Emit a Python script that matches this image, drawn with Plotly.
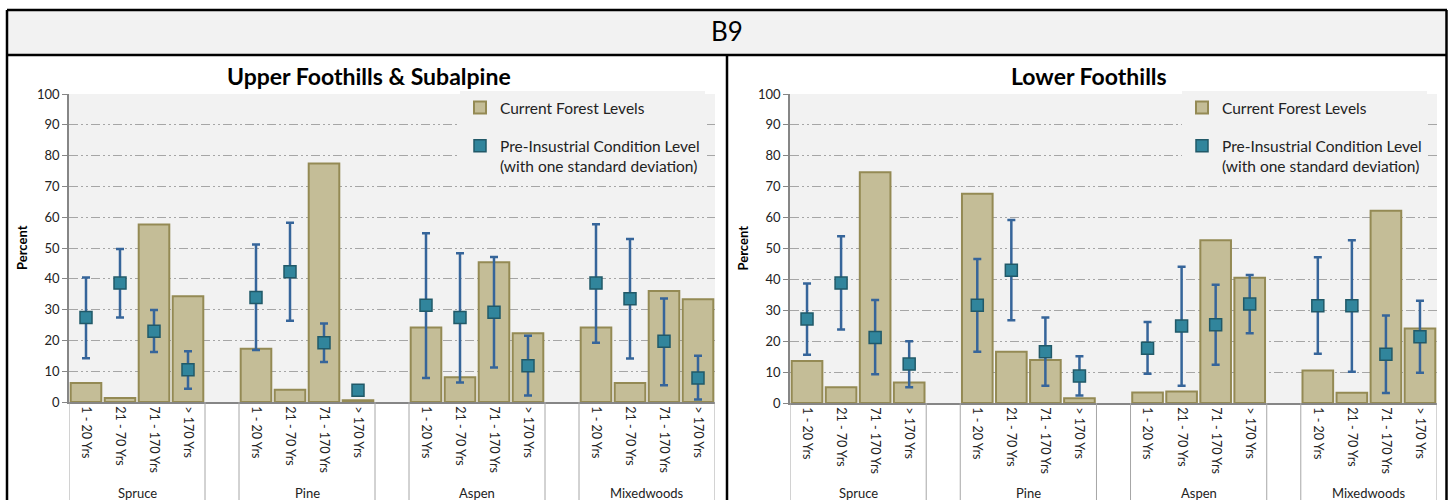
import plotly.graph_objects as go

W, H = 1453, 500

# ---------------- data ----------------
species = ["Spruce", "Pine", "Aspen", "Mixedwoods"]
age_classes = ["1 - 20 Yrs", "21 - 70 Yrs", "71 - 170 Yrs", "> 170 Yrs"]

upper_current = [6.2, 1.3, 57.6, 34.3, 17.3, 4.0, 77.4, 0.6,
                 24.2, 8.0, 45.4, 22.3, 24.2, 6.2, 36.0, 33.4]
upper_pre_mean = [27.4, 38.6, 23.0, 10.5, 33.9, 42.3, 19.2, 3.8,
                  31.4, 27.4, 29.1, 11.8, 38.6, 33.5, 19.7, 7.8]
upper_pre_high = [40.4, 49.7, 29.9, 16.5, 51.1, 58.2, 25.5, 5.3,
                  54.8, 48.3, 47.1, 21.5, 57.7, 52.9, 33.6, 15.0]
upper_pre_low = [14.2, 27.4, 16.2, 4.3, 16.9, 26.4, 13.0, 2.5,
                 7.8, 6.3, 11.2, 2.1, 19.2, 14.1, 5.4, 0.8]

lower_current = [13.6, 5.1, 74.7, 6.6, 67.7, 16.6, 13.9, 1.5,
                 3.4, 3.7, 52.7, 40.5, 10.5, 3.3, 62.2, 24.1]
lower_pre_mean = [27.2, 38.8, 21.2, 12.6, 31.6, 43.0, 16.6, 8.7,
                  17.7, 24.9, 25.3, 32.0, 31.5, 31.5, 15.8, 21.4]
lower_pre_high = [38.7, 54.0, 33.3, 20.0, 46.6, 59.2, 27.7, 15.1,
                  26.2, 44.1, 38.3, 41.4, 47.2, 52.7, 28.3, 33.1]
lower_pre_low = [15.6, 23.8, 9.3, 5.1, 16.6, 26.8, 5.6, 2.4,
                 9.5, 5.6, 12.4, 22.6, 15.9, 10.1, 3.2, 9.8]

panel_titles = ["Upper Foothills & Subalpine", "Lower Foothills"]
header_title = "B9"
y_title = "Percent"
legend_current = "Current Forest Levels"
legend_pre = "Pre-Insustrial Condition Level<br>(with one standard deviation)"

# ---------------- styling ----------------
FONT = "Lato"
BAR_FILL = "#c4bd97"
BAR_LINE = "#948a54"
MK_FILL = "#31859c"
MK_LINE = "#215968"
ERR_COL = "#36659a"
PLOT_BG = "#f2f2f2"
GRID = "#a6a6a6"
AXIS = "#868686"

n_age = len(age_classes)
slot = n_age + 1  # one empty slot between species groups
x_pos = [g * slot + i for g in range(len(species)) for i in range(n_age)]
tick_text = [age_classes[i] for g in range(len(species)) for i in range(n_age)]
n_slots = len(species) * slot - 1


def px_x(p):
    return p / W


def px_y(p):
    return 1 - p / H


panels = [
    dict(cur=upper_current, mean=upper_pre_mean, hi=upper_pre_high, lo=upper_pre_low,
         x0=69, x1=715, y0=402, y1=94, pleft=7, pright=727, legend_x=460),
    dict(cur=lower_current, mean=lower_pre_mean, hi=lower_pre_high, lo=lower_pre_low,
         x0=790, x1=1437, y0=403, y1=94, pleft=727, pright=1447, legend_x=1182),
]

fig = go.Figure()
shapes = []
annotations = []

for k, p in enumerate(panels):
    xa = "x" if k == 0 else "x2"
    ya = "y" if k == 0 else "y2"
    leg = "legend" if k == 0 else "legend2"
    fig.add_trace(go.Bar(
        x=x_pos, y=p["cur"], xaxis=xa, yaxis=ya, name=legend_current,
        marker=dict(color=BAR_FILL, line=dict(color=BAR_LINE, width=2)),
        width=0.9, legend=leg, legendgroup=f"cur{k}",
    ))
    err_plus = [h - m for h, m in zip(p["hi"], p["mean"])]
    err_minus = [m - l for m, l in zip(p["mean"], p["lo"])]
    fig.add_trace(go.Scatter(
        x=x_pos, y=p["mean"], xaxis=xa, yaxis=ya, mode="markers", name=legend_pre,
        marker=dict(symbol="square", size=12, color=MK_FILL, line=dict(color=MK_LINE, width=1.5)),
        error_y=dict(type="data", symmetric=False, array=err_plus, arrayminus=err_minus,
                     color=ERR_COL, thickness=2.5, width=4),
        legend=leg, legendgroup=f"pre{k}",
    ))

    dom_x = [px_x(p["x0"]), px_x(p["x1"])]
    dom_y = [px_y(p["y0"]), px_y(p["y1"])]
    suffix = "" if k == 0 else "2"
    fig.update_layout(**{
        f"xaxis{suffix}": dict(
            domain=dom_x, anchor=ya, range=[-0.5, n_slots - 0.5], automargin=False,
            tickmode="array", tickvals=x_pos, ticktext=tick_text, tickangle=90,
            tickfont=dict(family=FONT, size=12.5, color="#222"),
            showgrid=False, zeroline=False, showline=True, linecolor=AXIS, linewidth=1.5,
            ticks="", fixedrange=True,
        ),
        f"yaxis{suffix}": dict(
            domain=dom_y, anchor=xa, range=[0, 100], tickmode="array", automargin=False,
            tickvals=list(range(0, 101, 10)),
            tickfont=dict(family=FONT, size=13, color="#222"),
            showgrid=True, gridcolor=GRID, gridwidth=1, griddash="9px,3px,2px,3px,2px,3px",
            zeroline=False, showline=True, linecolor=AXIS, linewidth=1.5,
            ticks="outside", ticklen=5, tickcolor=AXIS, fixedrange=True,
        ),
        leg: dict(
            x=px_x(p["legend_x"]), xanchor="left", y=px_y(91), yanchor="top",
            bgcolor=PLOT_BG, font=dict(family=FONT, size=15.5, color="#222"),
            traceorder="grouped", tracegroupgap=15, valign="top",
        ),
    })

    # category separators (multi-level axis)
    axis_y = px_y(p["y0"])
    bounds = []
    for g in range(len(species)):
        bounds += [g * slot - 0.5, g * slot + n_age - 0.5]
    for b in bounds:
        shapes.append(dict(type="line", xref=xa, yref="paper", x0=b, x1=b,
                           y0=axis_y, y1=px_y(502), line=dict(color="#a6a6a6", width=1)))
    # species labels
    for g, s in enumerate(species):
        annotations.append(dict(text=s, xref=xa, yref="paper", x=g * slot + (n_age - 1) / 2,
                                y=px_y(493), showarrow=False, xanchor="center", yanchor="middle",
                                font=dict(family=FONT, size=13, color="#222")))
    # panel title
    annotations.append(dict(text=f"<b>{panel_titles[k]}</b>", xref="paper", yref="paper",
                            x=px_x((p["pleft"] + p["pright"]) / 2 + 2), y=px_y(76),
                            showarrow=False, xanchor="center", yanchor="middle",
                            font=dict(family=FONT, size=23, color="#000")))
    # y axis title
    annotations.append(dict(text=f"<b>{y_title}</b>", xref="paper", yref="paper",
                            x=px_x(p["pleft"] + 15), y=px_y((p["y0"] + p["y1"]) / 2),
                            showarrow=False, textangle=-90, xanchor="center", yanchor="middle",
                            font=dict(family=FONT, size=13, color="#000")))

# header band and frame
shapes.append(dict(type="rect", xref="paper", yref="paper", x0=px_x(7), x1=px_x(1447),
                   y0=px_y(55), y1=px_y(10), fillcolor=PLOT_BG, line=dict(width=0), layer="below"))
frame = dict(color="#000", width=2.5)
shapes += [
    dict(type="line", xref="paper", yref="paper", x0=px_x(7), x1=px_x(1447), y0=px_y(10), y1=px_y(10), line=frame),
    dict(type="line", xref="paper", yref="paper", x0=px_x(7), x1=px_x(1447), y0=px_y(55), y1=px_y(55), line=frame),
    dict(type="line", xref="paper", yref="paper", x0=px_x(7), x1=px_x(7), y0=px_y(10), y1=px_y(502), line=frame),
    dict(type="line", xref="paper", yref="paper", x0=px_x(1446.5), x1=px_x(1446.5), y0=px_y(10), y1=px_y(502), line=frame),
    dict(type="line", xref="paper", yref="paper", x0=px_x(727), x1=px_x(727), y0=px_y(55), y1=px_y(502), line=frame),
]
annotations.append(dict(text=header_title, xref="paper", yref="paper", x=px_x(727), y=px_y(31),
                        showarrow=False, xanchor="center", yanchor="middle",
                        font=dict(family=FONT, size=26, color="#000")))

fig.update_layout(
    width=W, height=H, margin=dict(l=0, r=0, t=0, b=0, autoexpand=False),
    paper_bgcolor="white", plot_bgcolor=PLOT_BG,
    shapes=shapes, annotations=annotations,
    barmode="overlay", showlegend=True,
    font=dict(family=FONT),
)

fig.write_html(
    "out.html",
    config={"displayModeBar": False},
    post_script="document.body.style.margin='0';document.body.style.overflow='hidden';",
)
